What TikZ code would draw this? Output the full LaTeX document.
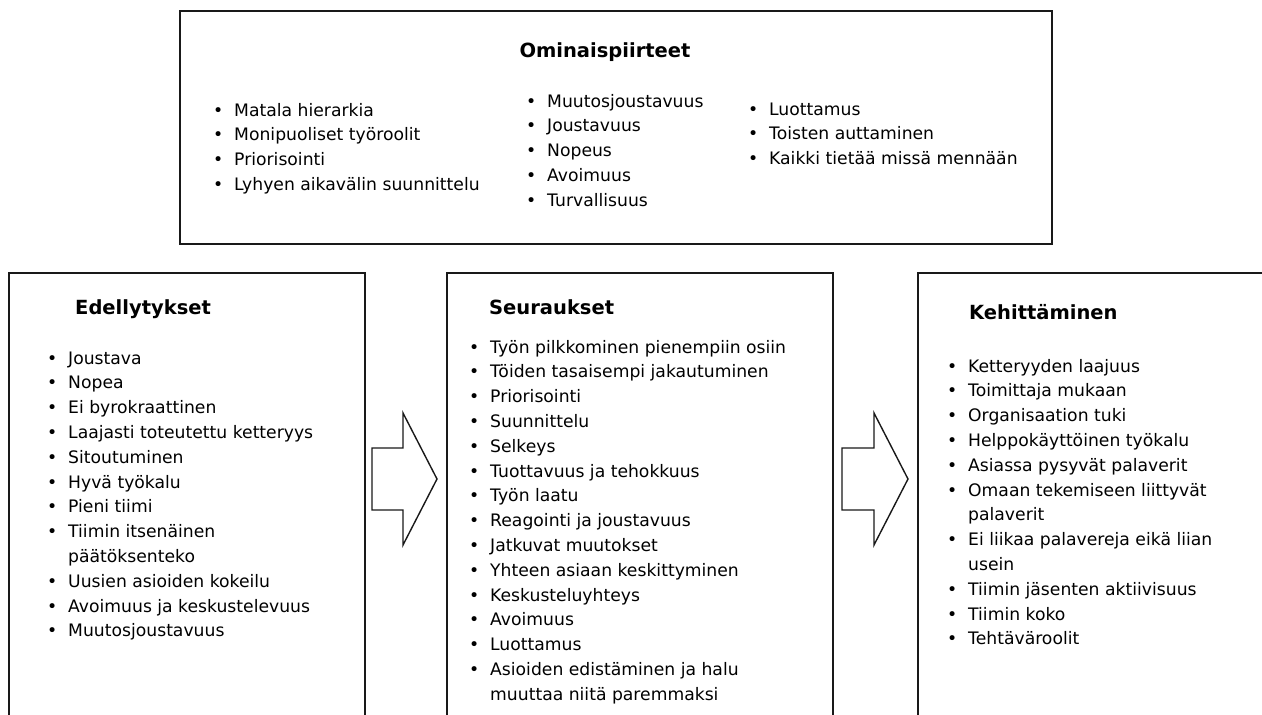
\documentclass[tikz,border=0pt]{standalone}
\usepackage{fontspec}
\setmainfont{DejaVu Sans}
\newcommand\bi{\makebox[12pt][c]{\textbullet}\hspace{10pt}}
\newcommand\ci{\hspace*{22pt}}
\tikzset{
  box/.style={draw=black!90, line width=1.9pt, anchor=north west, outer sep=0pt, inner sep=0pt, fill=white},
  title/.style={anchor=base west, inner sep=0pt, font=\fontsize{19.5}{24}\selectfont\bfseries},
  toptitle/.style={anchor=base, inner sep=0pt, font=\fontsize{19.5}{24}\selectfont\bfseries},
  blist/.style={anchor=base west, inner sep=0pt, font=\fontsize{17.2}{24.8}\selectfont},
  bigarrow/.style={draw=black!90, fill=white, line width=1.4pt, line join=miter}
}
\begin{document}
\begin{tikzpicture}[x=1pt,y=-1pt]
\useasboundingbox (0,0) rectangle (1262,715);
\clip (0,0) rectangle (1262,715);
% top box
\node[box, minimum width=872pt, minimum height=233pt] (top) at (180,11) {};
\node[toptitle] (ttl) at (605,57) {Ominaispiirteet};
\node[blist] (c1) at (212,116) {\begin{tabular}[t]{@{}l@{}}
\bi Matala hierarkia\\
\bi Monipuoliset työroolit\\
\bi Priorisointi\\
\bi Lyhyen aikavälin suunnittelu
\end{tabular}};
\node[blist] (c2) at (525,107) {\begin{tabular}[t]{@{}l@{}}
\bi Muutosjoustavuus\\
\bi Joustavuus\\
\bi Nopeus\\
\bi Avoimuus\\
\bi Turvallisuus
\end{tabular}};
\node[blist] (c3) at (747,115) {\begin{tabular}[t]{@{}l@{}}
\bi Luottamus\\
\bi Toisten auttaminen\\
\bi Kaikki tietää missä mennään
\end{tabular}};
% bottom boxes
\node[box, minimum width=356pt, minimum height=470pt] (ede) at (9,273) {};
\node[box, minimum width=386pt, minimum height=470pt] (seu) at (447,273) {};
\node[box, minimum width=400pt, minimum height=470pt] (keh) at (918,273) {};
% arrows
\draw[bigarrow] (372,448) -- (403,448) -- (403,413) -- (437,479) -- (403,545) -- (403,510) -- (372,510) -- cycle;
\draw[bigarrow] (842,448) -- (874,448) -- (874,413) -- (908,479) -- (874,545) -- (874,510) -- (842,510) -- cycle;
% titles
\node[title] (t1) at (75,314) {Edellytykset};
\node[title] (t2) at (489,314) {Seuraukset};
\node[title] (t3) at (969,319) {Kehittäminen};
% lists
\node[blist] (l1) at (46,364) {\begin{tabular}[t]{@{}l@{}}
\bi Joustava\\
\bi Nopea\\
\bi Ei byrokraattinen\\
\bi Laajasti toteutettu ketteryys\\
\bi Sitoutuminen\\
\bi Hyvä työkalu\\
\bi Pieni tiimi\\
\bi Tiimin itsenäinen\\
\ci päätöksenteko\\
\bi Uusien asioiden kokeilu\\
\bi Avoimuus ja keskustelevuus\\
\bi Muutosjoustavuus
\end{tabular}};
\node[blist] (l2) at (468,353) {\begin{tabular}[t]{@{}l@{}}
\bi Työn pilkkominen pienempiin osiin\\
\bi Töiden tasaisempi jakautuminen\\
\bi Priorisointi\\
\bi Suunnittelu\\
\bi Selkeys\\
\bi Tuottavuus ja tehokkuus\\
\bi Työn laatu\\
\bi Reagointi ja joustavuus\\
\bi Jatkuvat muutokset\\
\bi Yhteen asiaan keskittyminen\\
\bi Keskusteluyhteys\\
\bi Avoimuus\\
\bi Luottamus\\
\bi Asioiden edistäminen ja halu\\
\ci muuttaa niitä paremmaksi
\end{tabular}};
\node[blist] (l3) at (946,372) {\begin{tabular}[t]{@{}l@{}}
\bi Ketteryyden laajuus\\
\bi Toimittaja mukaan\\
\bi Organisaation tuki\\
\bi Helppokäyttöinen työkalu\\
\bi Asiassa pysyvät palaverit\\
\bi Omaan tekemiseen liittyvät\\
\ci palaverit\\
\bi Ei liikaa palavereja eikä liian\\
\ci usein\\
\bi Tiimin jäsenten aktiivisuus\\
\bi Tiimin koko\\
\bi Tehtäväroolit
\end{tabular}};
\end{tikzpicture}
\end{document}
